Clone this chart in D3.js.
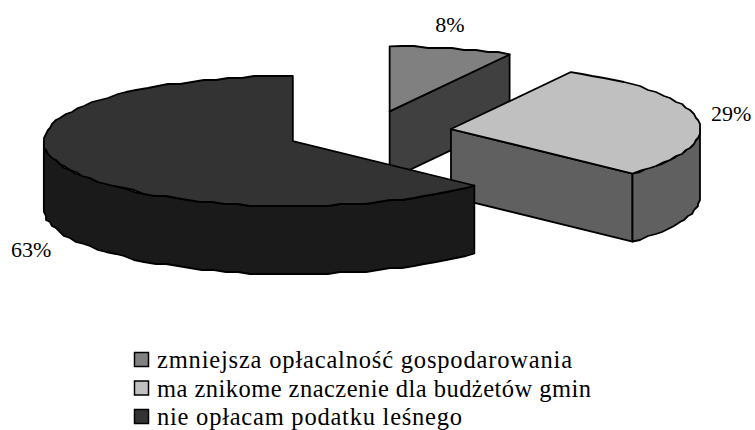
<!DOCTYPE html>
<html><head><meta charset="utf-8">
<script src="https://cdn.jsdelivr.net/npm/d3@7"></script>
<style>html,body{margin:0;padding:0;background:#fff}svg{display:block}text{font-family:"Liberation Serif",serif;fill:#000}</style>
</head><body><div id="c"></div>
<script>
const categories = ["zmniejsza opłacalność gospodarowania","ma znikome znaczenie dla budżetów gmin","nie opłacam podatku leśnego"];
const values = [8, 29, 63];
const pctLabels = ["8%","29%","63%"];
const topColors = ["#808080","#c0c0c0","#333333"];
const sideColors = ["#404040","#606060","#1a1a1a"];
const W=755,H=430;
const cx=369,cy=132.4,rx=249,ry=65,depth=68,explode=1/3;
const labelPos=[[450,32,"middle"],[711,121,"start"],[11,257,"start"]];
const legendWidths=[415,434,305];

const svg=d3.select("#c").append("svg").attr("width",W).attr("height",H);
const pie=d3.pie().sort(null).value(d=>d)(values);
const sx=d3.scaleLinear().domain([-1,1]).range([cx-rx,cx+rx]);
const sy=d3.scaleLinear().domain([-1,1]).range([cy-ry,cy+ry]);
const line=d3.line().x(p=>p[0]).y(p=>p[1]);
const step=Math.PI/60;
const grid=v=>Math.round(v/2)*2;

pie.forEach((d,i)=>{
  const mid=(d.startAngle+d.endAngle)/2;
  const dx=explode*(sx(Math.sin(mid))-cx), dy=explode*(sy(-Math.cos(mid))-cy);
  const ax=cx+dx, ay=cy+dy;
  const exact=(a,dz=0)=>[sx(Math.sin(a))+dx,sy(-Math.cos(a))+dy+dz];
  const pt=(a,dz=0)=>{const p=exact(a);return [grid(p[0]),grid(p[1])+dz];};
  const arcPts=(a0,a1,dz=0)=>{
    const n=Math.max(1,Math.ceil((a1-a0)/step)),r=[];
    for(let k=0;k<=n;k++){
      const a=a0+(a1-a0)*k/n;
      r.push(k===0||k===n?exact(a,dz):pt(a,dz));
    }
    return r;
  };
  const g=svg.append("g");
  const draw=(pts,fill)=>g.append("path").attr("d",line(pts)+"Z").attr("fill",fill)
    .attr("stroke","#000").attr("stroke-width",1.8).attr("stroke-linejoin","round");
  const apex=[ax,ay],apexB=[ax,ay+depth];
  if(d.startAngle===0){
    draw([apex,exact(d.endAngle),exact(d.endAngle,depth),apexB],sideColors[i]);
  } else if(d.endAngle-d.startAngle<Math.PI){
    draw([apex,exact(d.endAngle),exact(d.endAngle,depth),apexB],sideColors[i]);
    const s=Math.max(d.startAngle,Math.PI/2);
    draw([...arcPts(s,d.endAngle),...arcPts(s,d.endAngle,depth).reverse()],sideColors[i]);
  } else {
    const e=Math.min(d.endAngle,Math.PI*1.5);
    draw([...arcPts(d.startAngle,e),...arcPts(d.startAngle,e,depth).reverse()],sideColors[i]);
  }
  draw([apex,...arcPts(d.startAngle,d.endAngle)],topColors[i]);
});

svg.selectAll("text.lab").data(pctLabels).join("text").attr("class","lab")
  .attr("x",(d,i)=>labelPos[i][0]).attr("y",(d,i)=>labelPos[i][1])
  .attr("text-anchor",(d,i)=>labelPos[i][2]).attr("font-size",22).text(d=>d);

const ly=d3.scalePoint().domain(categories).range([360,417]);
const lg=svg.selectAll("g.leg").data(categories).join("g").attr("class","leg")
  .attr("transform",d=>`translate(0,${ly(d)})`);
lg.append("rect").attr("x",134.5).attr("y",-7.5).attr("width",14).attr("height",14)
  .attr("fill",(d,i)=>topColors[i]).attr("stroke","#000").attr("stroke-width",1.5);
lg.append("text").attr("x",157).attr("y",8).attr("font-size",24.5)
  .attr("textLength",(d,i)=>legendWidths[i]).attr("lengthAdjust","spacing").text(d=>d);
</script></body></html>
